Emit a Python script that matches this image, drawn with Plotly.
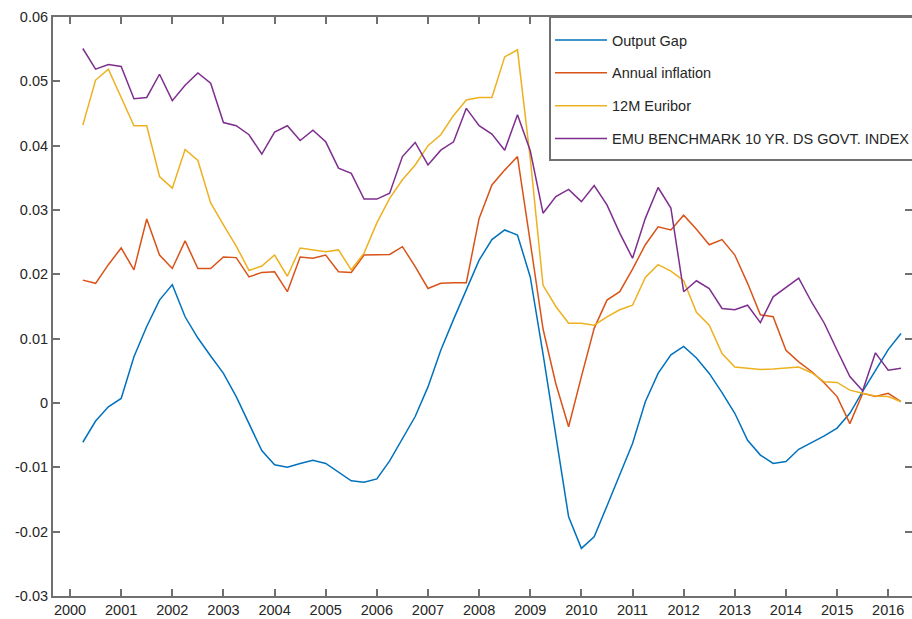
import plotly.graph_objects as go

# Quarterly observations, 2000Q2 .. 2016Q2 (decimal year positions)
quarters = [2000.25 + 0.25 * k for k in range(65)]

output_gap = [
    -0.0061, -0.0028, -0.0006, 0.0007, 0.0072, 0.0119, 0.0160, 0.0184,
    0.0134, 0.0101, 0.0073, 0.0046, 0.0010, -0.0033, -0.0074, -0.0096,
    -0.0100, -0.0094, -0.0089, -0.0094, -0.0108, -0.0121, -0.0123, -0.0118,
    -0.0090, -0.0056, -0.0021, 0.0025, 0.0082, 0.0130, 0.0176, 0.0222,
    0.0254, 0.0269, 0.0261, 0.0196, 0.0076, -0.0052, -0.0177, -0.0226,
    -0.0208, -0.0160, -0.0111, -0.0063, 0.0002, 0.0046, 0.0075, 0.0088,
    0.0070, 0.0046, 0.0016, -0.0016, -0.0058, -0.0081, -0.0094, -0.0091,
    -0.0072, -0.0062, -0.0051, -0.0039, -0.0016, 0.0018, 0.0051, 0.0083,
    0.0108,
]

annual_inflation = [
    0.0191, 0.0186, 0.0215, 0.0241, 0.0207, 0.0286, 0.0230, 0.0209,
    0.0252, 0.0209, 0.0209, 0.0227, 0.0226, 0.0196, 0.0203, 0.0204,
    0.0173, 0.0227, 0.0225, 0.0230, 0.0204, 0.0203, 0.0230, 0.0230,
    0.0231, 0.0243, 0.0212, 0.0178, 0.0186, 0.0187, 0.0187, 0.0287,
    0.0339, 0.0362, 0.0383, 0.0250, 0.0115, 0.0030, -0.0037, 0.0041,
    0.0116, 0.0160, 0.0173, 0.0208, 0.0246, 0.0274, 0.0269, 0.0292,
    0.0270, 0.0246, 0.0254, 0.0230, 0.0186, 0.0137, 0.0134, 0.0082,
    0.0064, 0.0049, 0.0031, 0.0010, -0.0032, 0.0015, 0.0010, 0.0015,
    0.0002,
]

euribor_12m = [
    0.0432, 0.0502, 0.0519, 0.0476, 0.0431, 0.0431, 0.0352, 0.0334,
    0.0394, 0.0377, 0.0311, 0.0277, 0.0244, 0.0206, 0.0213, 0.0230,
    0.0197, 0.0241, 0.0238, 0.0235, 0.0238, 0.0207, 0.0233, 0.0280,
    0.0318, 0.0347, 0.0370, 0.0400, 0.0417, 0.0447, 0.0471, 0.0475,
    0.0475, 0.0538, 0.0549, 0.0380, 0.0183, 0.0150, 0.0124, 0.0124,
    0.0121, 0.0134, 0.0145, 0.0152, 0.0195, 0.0215, 0.0205, 0.0190,
    0.0141, 0.0121, 0.0077, 0.0056, 0.0054, 0.0052, 0.0053, 0.0055,
    0.0056, 0.0047, 0.0033, 0.0032, 0.0020, 0.0015, 0.0011, 0.0010,
    0.0002,
]

emu_10y = [
    0.0551, 0.0519, 0.0526, 0.0523, 0.0473, 0.0475, 0.0511, 0.0470,
    0.0494, 0.0513, 0.0497, 0.0436, 0.0431, 0.0417, 0.0387, 0.0421,
    0.0431, 0.0408, 0.0424, 0.0406, 0.0365, 0.0357, 0.0317, 0.0317,
    0.0326, 0.0383, 0.0405, 0.0370, 0.0393, 0.0406, 0.0458, 0.0431,
    0.0418, 0.0393, 0.0448, 0.0392, 0.0295, 0.0321, 0.0332, 0.0313,
    0.0338, 0.0308, 0.0264, 0.0225, 0.0287, 0.0335, 0.0303, 0.0173,
    0.0190, 0.0178, 0.0147, 0.0145, 0.0152, 0.0125, 0.0165, 0.0180,
    0.0194, 0.0157, 0.0124, 0.0082, 0.0041, 0.0019, 0.0078, 0.0051,
    0.0054,
]

series_names = ["Output Gap", "Annual inflation", "12M Euribor",
                "EMU BENCHMARK 10 YR. DS GOVT. INDEX"]
series_values = [output_gap, annual_inflation, euribor_12m, emu_10y]
series_colors = ["#0072BD", "#D95319", "#EDB120", "#7E2F8E"]

x_ticks = list(range(2000, 2017))
y_ticks = [-0.03, -0.02, -0.01, 0, 0.01, 0.02, 0.03, 0.04, 0.05, 0.06]
y_ticktext = ["-0.03", "-0.02", "-0.01", "0", "0.01", "0.02", "0.03",
              "0.04", "0.05", "0.06"]

FONT = "Liberation Sans, Arial, Helvetica, sans-serif"
AXC = "#707070"
TXT = "#262626"

# plot area in pixels: x 53..912, y 17..596
PW, PH = 859.0, 579.0
LEG_LEFT = (550 - 53) / PW
LEG_BOTTOM = (596 - 160) / PH

fig = go.Figure()
for name, vals, col in zip(series_names, series_values, series_colors):
    fig.add_trace(go.Scatter(
        x=quarters, y=vals, mode="lines", name=name, legendgroup=name,
        line=dict(color=col, width=1.5),
    ))

# legend frame (its right edge runs off the picture, as in the original)
fig.add_shape(type="rect", xref="paper", yref="paper",
              x0=LEG_LEFT, x1=1.03, y0=LEG_BOTTOM, y1=1.0,
              line=dict(color=AXC, width=2), fillcolor="white", layer="above")

fig.update_layout(
    width=912, height=619,
    margin=dict(l=53, r=0, t=17, b=23, autoexpand=False),
    paper_bgcolor="white", plot_bgcolor="white",
    font=dict(family=FONT, color=TXT, size=14),
    showlegend=True,
    legend=dict(
        x=LEG_LEFT, y=1 - 7 / PH, xanchor="left", yanchor="top",
        bgcolor="rgba(0,0,0,0)", borderwidth=0,
        font=dict(family=FONT, size=14.5, color=TXT),
        tracegroupgap=11, itemwidth=52,
    ),
    xaxis=dict(
        range=[1999.667, 2016.465], tickvals=x_ticks,
        ticktext=[str(v) for v in x_ticks],
        ticks="inside", ticklen=7, tickwidth=1.5, tickcolor=AXC,
        showline=True, linecolor=AXC, linewidth=2, mirror="ticks",
        showgrid=False, zeroline=False,
        tickfont=dict(family=FONT, size=14.5, color=TXT),
    ),
    yaxis=dict(
        range=[-0.03, 0.06], tickvals=y_ticks, ticktext=y_ticktext,
        ticks="inside", ticklen=7, tickwidth=1.5, tickcolor=AXC,
        showline=True, linecolor=AXC, linewidth=2, mirror="ticks",
        showgrid=False, zeroline=False,
        tickfont=dict(family=FONT, size=14.5, color=TXT),
    ),
)

fig.write_html("out.html")
